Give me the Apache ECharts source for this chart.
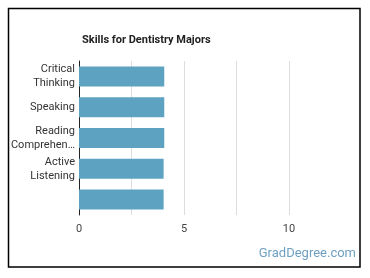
<!DOCTYPE html>
<html><head><meta charset="utf-8">
<script src="https://cdn.jsdelivr.net/npm/echarts@6/dist/echarts.min.js"></script>
<style>html,body{margin:0;padding:0;background:#fff}#c{width:370px;height:278px}</style>
</head><body><div id="c"></div>
<script>
var categories = ["Critical\nThinking", "Speaking", "Reading\nComprehen\u2026", "Active\nListening", ""];
var values = [4.06, 4.06, 4.06, 4.03, 4.03];
var tickLabels = ["0", "5", "10"];
var titleText = "Skills for Dentistry Majors";
var watermark = "GradDegree.com";

var chart = echarts.init(document.getElementById('c'), null, {renderer: 'canvas'});
chart.setOption({
  animation: false,
  backgroundColor: '#fff',
  title: {
    text: titleText, left: 77, top: 30,
    textStyle: {fontFamily: 'Roboto', fontSize: 11, fontWeight: 'bold', color: '#222'}
  },
  graphic: [
    {type: 'rect', shape: {x: 8.5, y: 8.5, width: 351.5, height: 258.5},
     style: {fill: 'none', stroke: '#000', lineWidth: 1.5}, silent: true},
    {type: 'text', right: 14, top: 247,
     style: {text: watermark, fontFamily: 'Roboto', fontSize: 13, fill: '#6f9fc0'}}
  ],
  grid: {left: 79, top: 61, width: 210, height: 154},
  xAxis: {
    type: 'value', min: 0, max: 10, interval: 2.5,
    axisLine: {show: false}, axisTick: {show: false},
    splitLine: {show: true, lineStyle: {color: '#dddddd', width: 1}},
    axisLabel: {
      margin: 9, fontFamily: 'Roboto', fontSize: 11, color: '#444',
      formatter: function (v) {
        var i = tickLabels.indexOf(String(v));
        return i >= 0 ? tickLabels[i] : '';
      }
    }
  },
  yAxis: {
    type: 'category', data: categories, inverse: true,
    axisLine: {show: true, lineStyle: {color: '#222', width: 1}},
    axisTick: {show: false},
    axisLabel: {margin: 4, fontFamily: 'Roboto', fontSize: 11, color: '#333', lineHeight: 14, align: 'right'}
  },
  series: [{
    type: 'bar', data: values, barWidth: 20,
    itemStyle: {color: '#5da3c1'}
  }]
});
</script></body></html>
